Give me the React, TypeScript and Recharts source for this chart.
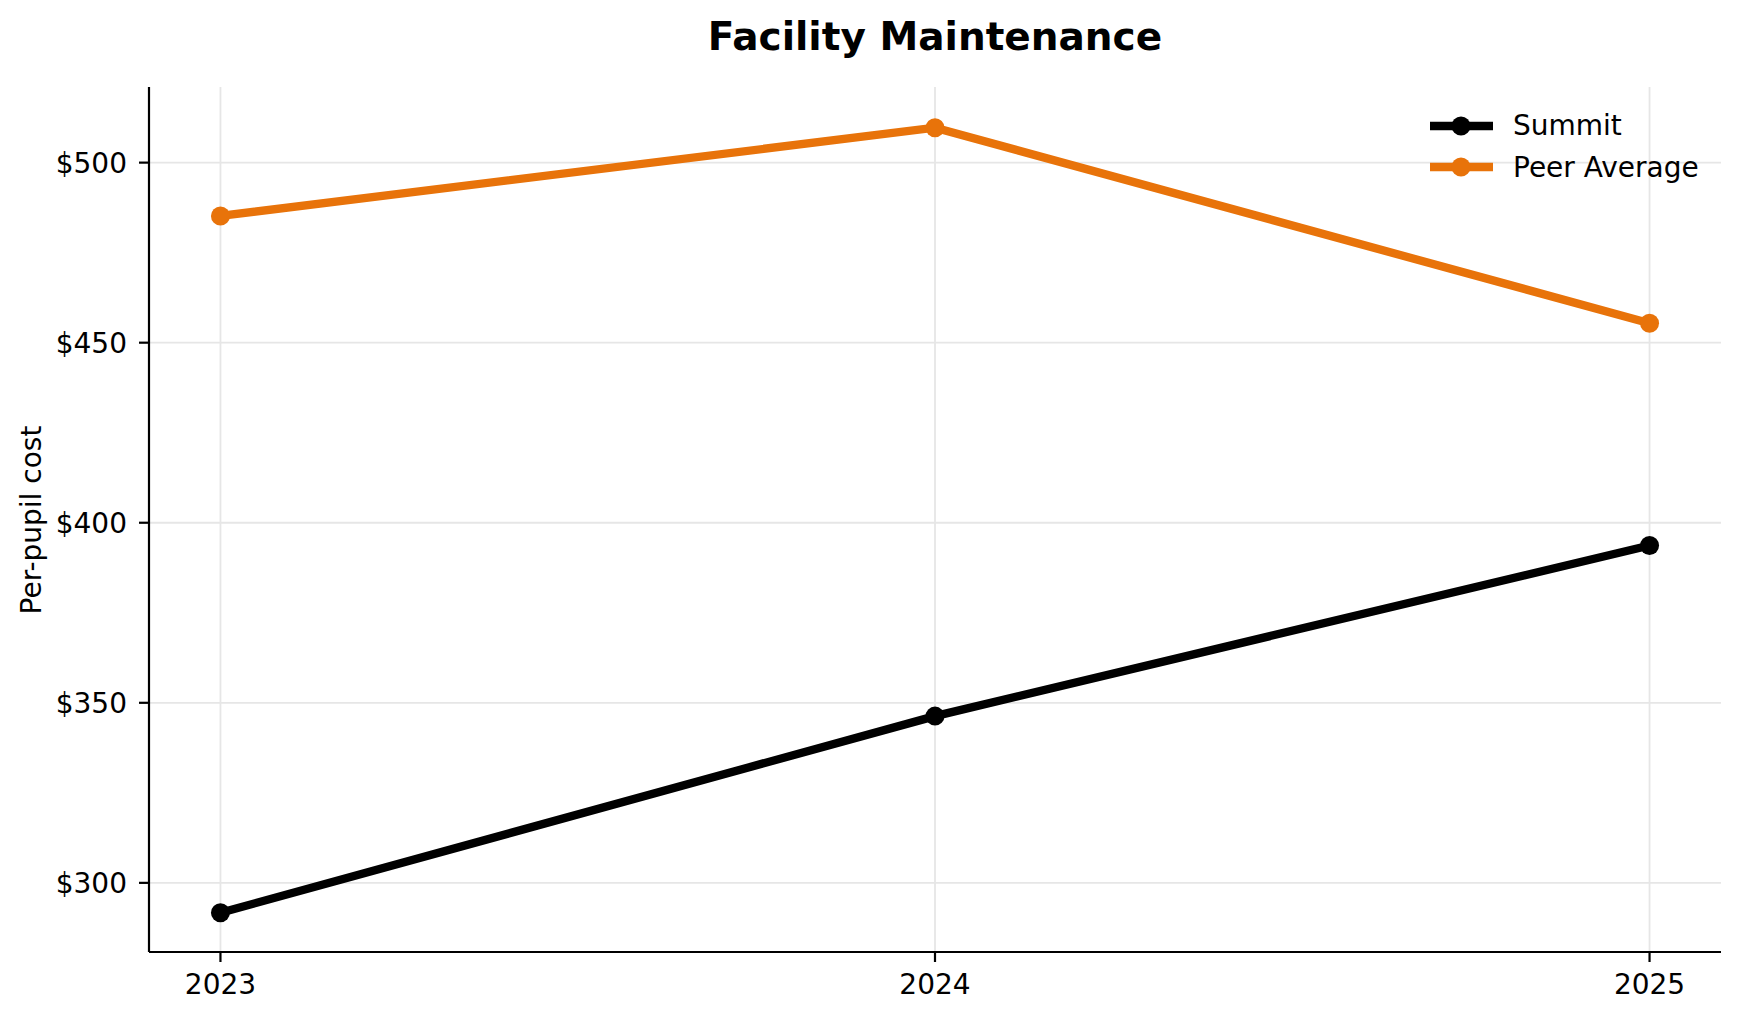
import React from "react";
import {
  LineChart,
  Line,
  XAxis,
  YAxis,
  ReferenceLine,
} from "recharts";

const YEARS = [2023, 2024, 2025];
const SUMMIT = [291.7, 346.3, 393.7];
const PEER_AVERAGE = [485.2, 509.7, 455.4];
const Y_TICKS = [300, 350, 400, 450, 500];

const ORANGE = "#E8730A";
const GRID = "#e6e6e6";
const FONT = "'DejaVu Sans', sans-serif";

const SERIES = [
  { key: "summit", name: "Summit", color: "#000" },
  { key: "peer", name: "Peer Average", color: ORANGE },
];

const data = YEARS.map((year, i) => ({
  year,
  summit: SUMMIT[i],
  peer: PEER_AVERAGE[i],
}));

// legend sits outside the chart so it does not shrink the plot area
const LegendBox = () => (
  <div style={{ position: "absolute", left: 1430, top: 105 }}>
    {SERIES.map((s) => (
      <div
        key={s.key}
        style={{ display: "flex", alignItems: "center", height: 41.6 }}
      >
        <svg width={64} height={24} style={{ display: "block" }}>
          <line x1={0} y1={12} x2={63} y2={12} stroke={s.color} strokeWidth={8.3} />
          <circle cx={31} cy={12} r={9.5} fill={s.color} />
        </svg>
        <span
          style={{
            marginLeft: 19,
            fontFamily: FONT,
            fontSize: 28,
            color: "#000",
            lineHeight: "41.6px",
            whiteSpace: "nowrap",
          }}
        >
          {s.name}
        </span>
      </div>
    ))}
  </div>
);

const YLabel = () => (
  <text
    x={31}
    y={520}
    transform="rotate(-90 31 520)"
    textAnchor="middle"
    dominantBaseline="central"
    fontFamily={FONT}
    fontSize={28}
    fill="#000"
  >
    Per-pupil cost
  </text>
);

export default function App() {
  return (
    <div
      style={{
        position: "absolute",
        left: 0,
        top: 0,
        width: 1739,
        height: 1019,
        background: "#fff",
      }}
    >
      <div
        style={{
          position: "absolute",
          left: 435,
          top: 17,
          width: 1000,
          textAlign: "center",
          fontFamily: FONT,
          fontWeight: "bold",
          fontSize: 39,
          lineHeight: "39px",
          color: "#000",
        }}
      >
        Facility Maintenance
      </div>

      <LineChart
        width={1739}
        height={1019}
        data={data}
        margin={{ top: 87, right: 18, bottom: 0, left: 0 }}
      >
        <XAxis
          dataKey="year"
          type="number"
          domain={[2022.9, 2025.1]}
          ticks={YEARS}
          height={67}
          tickSize={10}
          tickMargin={12}
          axisLine={{ stroke: "#000", strokeWidth: 2.2 }}
          tickLine={{ stroke: "#000", strokeWidth: 2.2 }}
          tick={{ fill: "#000", fontSize: 28, fontFamily: FONT }}
        />
        <YAxis
          type="number"
          domain={[280.8, 521]}
          ticks={Y_TICKS}
          width={149}
          tickSize={10}
          tickMargin={12}
          tickFormatter={(v: number) => `$${v}`}
          axisLine={{ stroke: "#000", strokeWidth: 2.2 }}
          tickLine={{ stroke: "#000", strokeWidth: 2.2 }}
          tick={{ fill: "#000", fontSize: 28, fontFamily: FONT }}
          label={{ content: () => <YLabel /> }}
        />
        {Y_TICKS.map((v) => (
          <ReferenceLine key={`h${v}`} y={v} stroke={GRID} strokeWidth={1.8} />
        ))}
        {YEARS.map((v) => (
          <ReferenceLine key={`v${v}`} x={v} stroke={GRID} strokeWidth={1.8} />
        ))}
        {SERIES.map((s) => (
          <Line
            key={s.key}
            name={s.name}
            dataKey={s.key}
            stroke={s.color}
            strokeWidth={8.3}
            dot={{ r: 9.5, fill: s.color, stroke: "none" }}
            activeDot={false}
            isAnimationActive={false}
          />
        ))}
      </LineChart>

      <LegendBox />
    </div>
  );
}
